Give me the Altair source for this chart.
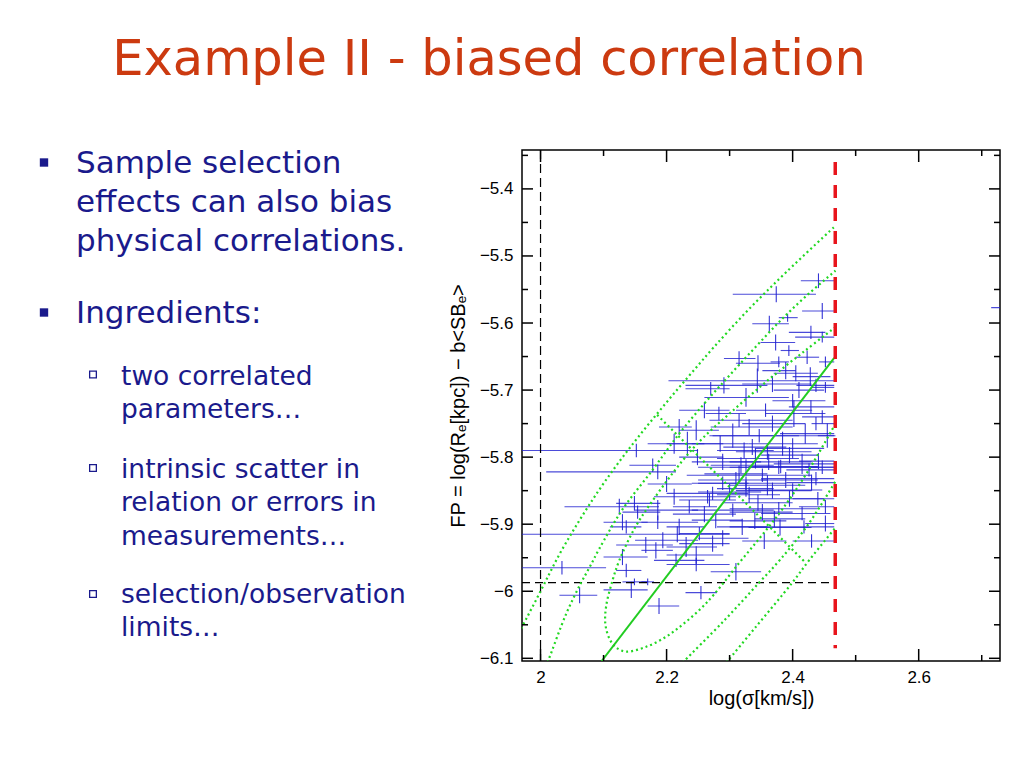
import altair as alt
import pandas as pd

# ---------------- slide text ----------------
slide_title = "Example II - biased correlation"
bullet1_a = ["Sample selection", "effects can also bias", "physical correlations."]
bullet1_b = ["Ingredients:"]
bullet2_a = ["two correlated", "parameters…"]
bullet2_b = ["intrinsic scatter in", "relation or errors in", "measurements…"]
bullet2_c = ["selection/observation", "limits…"]

# ---------------- axes ----------------
x_domain = [1.9706, 2.729]
y_domain = [-6.104, -5.342]
x_major = [2.0, 2.2, 2.4, 2.6]
x_minor = [2.1, 2.3, 2.5, 2.7]
y_major = [-6.1, -6.0, -5.9, -5.8, -5.7, -5.6, -5.5, -5.4]
y_minor = [-6.05, -5.95, -5.85, -5.75, -5.65, -5.55, -5.45, -5.35]
x_title = "log(σ[km/s])"
y_title = "FP = log(Rₑ[kpc]) − b<SBₑ>"

# ---------------- data points with error bars ----------------
cx = [2.441, 2.374, 2.447, 2.392, 2.363, 2.429, 2.447, 2.373, 2.394, 2.315,
      2.423, 2.378, 2.452, 2.389, 2.344, 2.291, 2.368, 2.270, 2.437, 2.452,
      2.326, 2.400, 2.429, 2.283, 2.357, 2.402, 2.447, 2.315, 2.437, 2.247,
      2.305, 2.347, 2.384, 2.455, 2.233, 2.336, 2.360, 2.289, 2.415, 2.326,
      2.220, 2.212, 2.152, 2.178, 2.186, 2.125, 2.149, 2.186, 2.154, 2.130,
      2.186, 2.136, 2.217, 2.194, 2.167, 2.183, 2.130, 2.215, 2.034, 2.136,
      2.149, 2.170, 2.144, 2.062, 2.188, 2.2545, 2.310, 2.247, 2.400, 2.268,
      2.305, 2.378, 2.415, 2.371, 2.418, 2.252, 2.289, 2.273, 2.231, 2.247,
      2.447, 2.452, 2.437, 2.352, 2.326, 2.273, 2.378, 2.212, 2.220, 2.236,
      2.265, 2.249, 2.315, 2.289, 2.326, 2.278, 2.320, 2.428, 2.331, 2.368,
      2.420, 2.323, 2.400, 2.341, 2.362, 2.441, 2.381, 2.426, 2.310, 2.389,
      2.368, 2.331, 2.352, 2.345, 2.452, 2.745, 2.395, 2.318, 2.430, 2.360,
      2.395, 2.440, 2.380, 2.340, 2.300, 2.285, 2.260, 2.410, 2.345, 2.405,
      2.260, 2.355, 2.430, 2.200]
cy = [-5.537, -5.557, -5.582, -5.592, -5.601, -5.614, -5.621, -5.629, -5.641, -5.653,
      -5.651, -5.658, -5.658, -5.671, -5.686, -5.693, -5.691, -5.698, -5.693, -5.696,
      -5.711, -5.716, -5.725, -5.735, -5.730, -5.735, -5.740, -5.745, -5.750, -5.760,
      -5.768, -5.768, -5.780, -5.768, -5.780, -5.785, -5.792, -5.807, -5.810, -5.815,
      -5.755, -5.780, -5.790, -5.812, -5.822, -5.874, -5.869, -5.879, -5.882, -5.897,
      -5.897, -5.904, -5.915, -5.924, -5.931, -5.939, -5.949, -5.954, -5.965, -5.969,
      -5.986, -5.986, -5.998, -6.006, -6.022, -6.002, -5.971, -5.960, -5.849, -5.864,
      -5.879, -5.877, -5.884, -5.892, -5.904, -5.914, -5.921, -5.929, -5.934, -5.946,
      -5.815, -5.874, -5.832, -5.827, -5.839, -5.854, -5.815, -5.859, -5.904, -5.874,
      -5.859, -5.800, -5.825, -5.839, -5.847, -5.894, -5.904, -5.680, -5.755, -5.750,
      -5.765, -5.790, -5.787, -5.802, -5.807, -5.806, -5.814, -5.819, -5.834, -5.834,
      -5.850, -5.856, -5.882, -5.868, -5.899, -5.577, -5.797, -5.812, -5.838, -5.842,
      -5.862, -5.862, -5.905, -5.895, -5.852, -5.780, -5.730, -5.700, -5.660, -5.675,
      -5.885, -5.925, -5.925, -5.840]
cx_lo = [2.413, 2.305, 2.415, 2.378, 2.336, 2.394, 2.404, 2.349, 2.381, 2.291,
         2.405, 2.365, 2.442, 2.352, 2.203, 2.230, 2.320, 2.230, 2.406, 2.430,
         2.260, 2.368, 2.394, 2.262, 2.310, 2.357, 2.415, 2.268, 2.430, 2.220,
         2.268, 2.273, 2.330, 2.440, 2.200, 2.290, 2.310, 2.240, 2.370, 2.250,
         2.188, 2.170, 1.950, 2.141, 2.009, 2.038, 2.120, 2.150, 2.130, 2.100,
         2.160, 2.110, 1.950, 2.150, 2.120, 2.160, 2.100, 2.180, 1.950, 2.120,
         2.130, 2.160, 2.100, 2.030, 2.170, 2.230, 2.270, 2.200, 2.330, 2.220,
         2.240, 2.300, 2.350, 2.340, 2.300, 2.220, 2.250, 2.220, 2.200, 2.200,
         2.420, 2.410, 2.350, 2.232, 2.240, 2.200, 2.300, 2.180, 2.200, 2.210,
         2.240, 2.220, 2.260, 2.250, 2.280, 2.240, 2.280, 2.400, 2.270, 2.320,
         2.380, 2.280, 2.340, 2.280, 2.300, 2.410, 2.330, 2.390, 2.250, 2.350,
         2.310, 2.280, 2.300, 2.290, 2.420, 2.715, 2.350, 2.270, 2.390, 2.300,
         2.330, 2.400, 2.330, 2.300, 2.250, 2.240, 2.220, 2.370, 2.310, 2.370,
         2.210, 2.320, 2.400, 2.170]
cx_hi = [2.468, 2.437, 2.466, 2.408, 2.394, 2.452, 2.466, 2.404, 2.410, 2.341,
         2.442, 2.394, 2.466, 2.405, 2.466, 2.360, 2.430, 2.300, 2.466, 2.466,
         2.394, 2.452, 2.466, 2.326, 2.431, 2.452, 2.466, 2.400, 2.466, 2.283,
         2.410, 2.468, 2.440, 2.466, 2.290, 2.390, 2.430, 2.350, 2.466, 2.440,
         2.240, 2.260, 2.250, 2.215, 2.215, 2.188, 2.190, 2.250, 2.190, 2.170,
         2.250, 2.160, 2.300, 2.250, 2.210, 2.210, 2.170, 2.260, 2.104, 2.160,
         2.170, 2.180, 2.170, 2.090, 2.220, 2.280, 2.350, 2.300, 2.447, 2.310,
         2.370, 2.440, 2.460, 2.420, 2.466, 2.300, 2.330, 2.300, 2.280, 2.290,
         2.466, 2.466, 2.466, 2.430, 2.390, 2.330, 2.466, 2.240, 2.260, 2.280,
         2.310, 2.290, 2.360, 2.330, 2.370, 2.320, 2.360, 2.460, 2.400, 2.420,
         2.466, 2.370, 2.450, 2.410, 2.430, 2.466, 2.440, 2.466, 2.360, 2.440,
         2.430, 2.380, 2.400, 2.400, 2.466, 2.775, 2.440, 2.370, 2.466, 2.420,
         2.450, 2.466, 2.430, 2.390, 2.350, 2.330, 2.300, 2.450, 2.380, 2.440,
         2.310, 2.390, 2.466, 2.240]
cy_err = [0.011, 0.012, 0.012, 0.006, 0.012, 0.010, 0.008, 0.012, 0.008, 0.011,
          0.010, 0.008, 0.008, 0.013, 0.018, 0.012, 0.012, 0.010, 0.010, 0.008,
          0.014, 0.010, 0.010, 0.010, 0.010, 0.020, 0.010, 0.010, 0.010, 0.015,
          0.018, 0.010, 0.018, 0.018, 0.018, 0.012, 0.012, 0.012, 0.015, 0.012,
          0.012, 0.015, 0.010, 0.010, 0.011, 0.012, 0.011, 0.015, 0.010, 0.012,
          0.010, 0.010, 0.012, 0.012, 0.012, 0.012, 0.012, 0.010, 0.010, 0.010,
          0.005, 0.005, 0.012, 0.012, 0.012, 0.010, 0.013, 0.010, 0.010, 0.010,
          0.010, 0.010, 0.010, 0.012, 0.010, 0.010, 0.012, 0.012, 0.015, 0.013,
          0.010, 0.010, 0.010, 0.010, 0.010, 0.010, 0.010, 0.012, 0.012, 0.010,
          0.010, 0.012, 0.012, 0.010, 0.012, 0.012, 0.012, 0.014, 0.012, 0.012,
          0.015, 0.012, 0.015, 0.015, 0.012, 0.012, 0.010, 0.010, 0.012, 0.012,
          0.012, 0.012, 0.012, 0.012, 0.012, 0.010, 0.012, 0.012, 0.012, 0.015,
          0.012, 0.010, 0.012, 0.012, 0.012, 0.012, 0.012, 0.012, 0.012, 0.012,
          0.012, 0.012, 0.010, 0.012]

# ---------------- model contours ----------------
outer_left_x = [1.962, 2.000, 2.030, 2.060, 2.090, 2.120, 2.150, 2.180, 2.210, 2.240, 2.275, 2.330, 2.390, 2.468]
outer_left_y = [-6.069, -6.000, -5.945, -5.897, -5.853, -5.813, -5.776, -5.741, -5.707, -5.674, -5.636, -5.580, -5.524, -5.455]
outer_right_x = [2.290, 2.297, 2.340, 2.3996, 2.426, 2.468]
outer_right_y = [-6.112, -6.104, -6.055, -5.987, -5.954, -5.905]
mid_left_x = [2.005, 2.012, 2.041, 2.064, 2.078, 2.093, 2.130, 2.177, 2.220, 2.260, 2.300, 2.340, 2.380, 2.420, 2.468]
mid_left_y = [-6.120, -6.104, -6.033, -5.988, -5.964, -5.937, -5.878, -5.820, -5.765, -5.720, -5.678, -5.637, -5.597, -5.561, -5.522]
mid_right_x = [2.220, 2.228, 2.290, 2.347, 2.381, 2.425, 2.468]
mid_right_y = [-6.112, -6.104, -6.045, -5.987, -5.952, -5.900, -5.836]
inner_x = [2.468, 2.420, 2.360, 2.300, 2.257, 2.2255, 2.180, 2.150, 2.125, 2.1145, 2.104, 2.103, 2.110,
           2.120, 2.136, 2.167, 2.199, 2.225, 2.252, 2.275, 2.315, 2.350, 2.385, 2.425, 2.468]
inner_y = [-5.606, -5.641, -5.686, -5.735, -5.772, -5.805, -5.862, -5.905, -5.954, -5.983, -6.023, -6.050, -6.072,
           -6.084, -6.090, -6.083, -6.068, -6.050, -6.028, -6.005, -5.958, -5.918, -5.876, -5.820, -5.750]
minor_axis_x = [2.185, 2.418]
minor_axis_y = [-5.737, -5.955]
fit_x = [2.097, 2.466]
fit_y = [-6.104, -5.652]

# selection limits
lim_sigma = 2.0
lim_fp = -5.987
cut_sigma = 2.4676
cut_fp_range = [-5.36, -6.085]

# ---------------- build ----------------
W, H = 478, 511
xscale = alt.Scale(domain=x_domain, nice=False, zero=False)
yscale = alt.Scale(domain=y_domain, nice=False, zero=False)
xaxis = alt.Axis(values=x_major, format=".2~f", title=x_title, labelPadding=8, titlePadding=3)
yaxis = alt.Axis(values=y_major, format=".2~f", title=y_title, labelPadding=9, titlePadding=11)


def X(f):
    return alt.X(f + ":Q", scale=xscale, axis=xaxis)


def Y(f):
    return alt.Y(f + ":Q", scale=yscale, axis=yaxis)


pts = pd.DataFrame({"x": cx, "y": cy, "xl": cx_lo, "xr": cx_hi, "ye": cy_err})
base_pts = alt.Chart(pts).transform_calculate(
    ylo="datum.y - datum.ye", yhi="datum.y + datum.ye"
)
cross_color = "#1e1ed0"
hbars = base_pts.mark_rule(clip=True, color=cross_color, strokeWidth=1.1, opacity=0.8).encode(
    x=X("xl"), x2="xr", y=Y("y"))
vbars = base_pts.mark_rule(clip=True, color=cross_color, strokeWidth=1.1, opacity=0.9).encode(
    x=X("x"), y=Y("ylo"), y2="yhi")

curves = []
for name, xs_, ys_ in [("outer_left", outer_left_x, outer_left_y),
                       ("outer_right", outer_right_x, outer_right_y),
                       ("mid_left", mid_left_x, mid_left_y),
                       ("mid_right", mid_right_x, mid_right_y),
                       ("inner", inner_x, inner_y),
                       ("minor", minor_axis_x, minor_axis_y)]:
    for i, (a, b) in enumerate(zip(xs_, ys_)):
        curves.append({"curve": name, "i": i, "x": a, "y": b})
curve_df = pd.DataFrame(curves)
green_dotted = alt.Chart(curve_df).mark_line(
    clip=True, color="#22d822", strokeWidth=2.2, strokeDash=[2, 3], interpolate="catmull-rom"
).encode(x=X("x"), y=Y("y"), detail="curve:N", order="i:Q")

fit_df = pd.DataFrame({"x": fit_x, "y": fit_y})
green_fit = alt.Chart(fit_df).mark_line(clip=True, color="#22cc22", strokeWidth=2).encode(
    x=X("x"), y=Y("y"))

vline_df = pd.DataFrame({"x": [lim_sigma]})
black_v = alt.Chart(vline_df).mark_rule(color="black", strokeWidth=1.2, strokeDash=[9, 5]).encode(
    x=X("x"))
hline_df = pd.DataFrame({"y": [lim_fp], "x": [x_domain[0]], "x2": [cut_sigma]})
black_h = alt.Chart(hline_df).mark_rule(color="black", strokeWidth=1.3, strokeDash=[8, 5]).encode(
    x=X("x"), x2="x2", y=Y("y"))
red_df = pd.DataFrame({"x": [cut_sigma], "y": [cut_fp_range[0]], "y2": [cut_fp_range[1]]})
red_v = alt.Chart(red_df).mark_rule(color="#e8141c", strokeWidth=3.5, strokeDash=[13, 10]).encode(
    x=X("x"), y=Y("y"), y2="y2")

# inward tick marks on all four sides
xmaj = pd.DataFrame({"v": x_major})
xmin = pd.DataFrame({"v": x_minor})
ymaj = pd.DataFrame({"v": y_major})
ymin = pd.DataFrame({"v": y_minor})
tk = dict(color="black", strokeWidth=1.5)
ticks = [
    alt.Chart(xmaj).mark_rule(**tk).encode(x=X("v"), y=alt.value(H), y2=alt.value(H - 12)),
    alt.Chart(xmaj).mark_rule(**tk).encode(x=X("v"), y=alt.value(0), y2=alt.value(12)),
    alt.Chart(xmin).mark_rule(**tk).encode(x=X("v"), y=alt.value(H), y2=alt.value(H - 6)),
    alt.Chart(xmin).mark_rule(**tk).encode(x=X("v"), y=alt.value(0), y2=alt.value(6)),
    alt.Chart(ymaj).mark_rule(**tk).encode(y=Y("v"), x=alt.value(0), x2=alt.value(11)),
    alt.Chart(ymaj).mark_rule(**tk).encode(y=Y("v"), x=alt.value(W), x2=alt.value(W - 11)),
    alt.Chart(ymin).mark_rule(**tk).encode(y=Y("v"), x=alt.value(0), x2=alt.value(6)),
    alt.Chart(ymin).mark_rule(**tk).encode(y=Y("v"), x=alt.value(W), x2=alt.value(W - 6)),
]

# slide text (positions relative to the plot origin)
one = pd.DataFrame({"k": [0]})
navy = "#1a1a8c"
title_layer = alt.Chart(one).mark_text(
    text=slide_title, font="DejaVu Sans", fontSize=49.5, color="#cc3a10", align="center",
    baseline="alphabetic").encode(x=alt.value(-33), y=alt.value(-75))


def para(lines, x, y, size, lh):
    return alt.Chart(one).mark_text(
        text=lines, font="DejaVu Sans", fontSize=size, color=navy, align="left",
        baseline="alphabetic", lineHeight=lh).encode(x=alt.value(x), y=alt.value(y))


texts = [
    para(bullet1_a, -446, 23, 31, 39.2),
    para(bullet1_b, -446, 173, 31, 39.2),
    para(bullet2_a, -401, 235, 26.5, 32.5),
    para(bullet2_b, -401, 328, 26.5, 33.3),
    para(bullet2_c, -401, 453, 26.5, 33.3),
]
bullets_filled = [
    alt.Chart(one).mark_square(size=70, color=navy, opacity=1).encode(x=alt.value(-478), y=alt.value(12.5)),
    alt.Chart(one).mark_square(size=70, color=navy, opacity=1).encode(x=alt.value(-478), y=alt.value(162.5)),
]
bullets_hollow = [
    alt.Chart(one).mark_square(size=45, filled=False, color=navy, strokeWidth=1.3, opacity=1).encode(
        x=alt.value(-429), y=alt.value(yy)) for yy in (224.5, 318, 444)
]

chart = alt.layer(
    hbars, vbars, black_v, black_h, green_dotted, green_fit, red_v, *ticks,
    title_layer, *texts, *bullets_filled, *bullets_hollow
).properties(
    width=W, height=H,
    padding={"left": 514, "top": 142, "right": 10, "bottom": 60},
    autosize=alt.AutoSizeParams(type="none"),
    background="white",
).configure_view(
    stroke="black", strokeWidth=1.5
).configure_axis(
    grid=False, ticks=False, domain=False, tickSize=0, labelFlush=False,
    labelFont="Liberation Sans", labelFontSize=17, labelColor="black",
    titleFont="Liberation Sans", titleFontSize=20, titleFontWeight="normal", titleColor="black",
)

chart.save("out.html", embed_options={"renderer": "svg", "actions": False})
